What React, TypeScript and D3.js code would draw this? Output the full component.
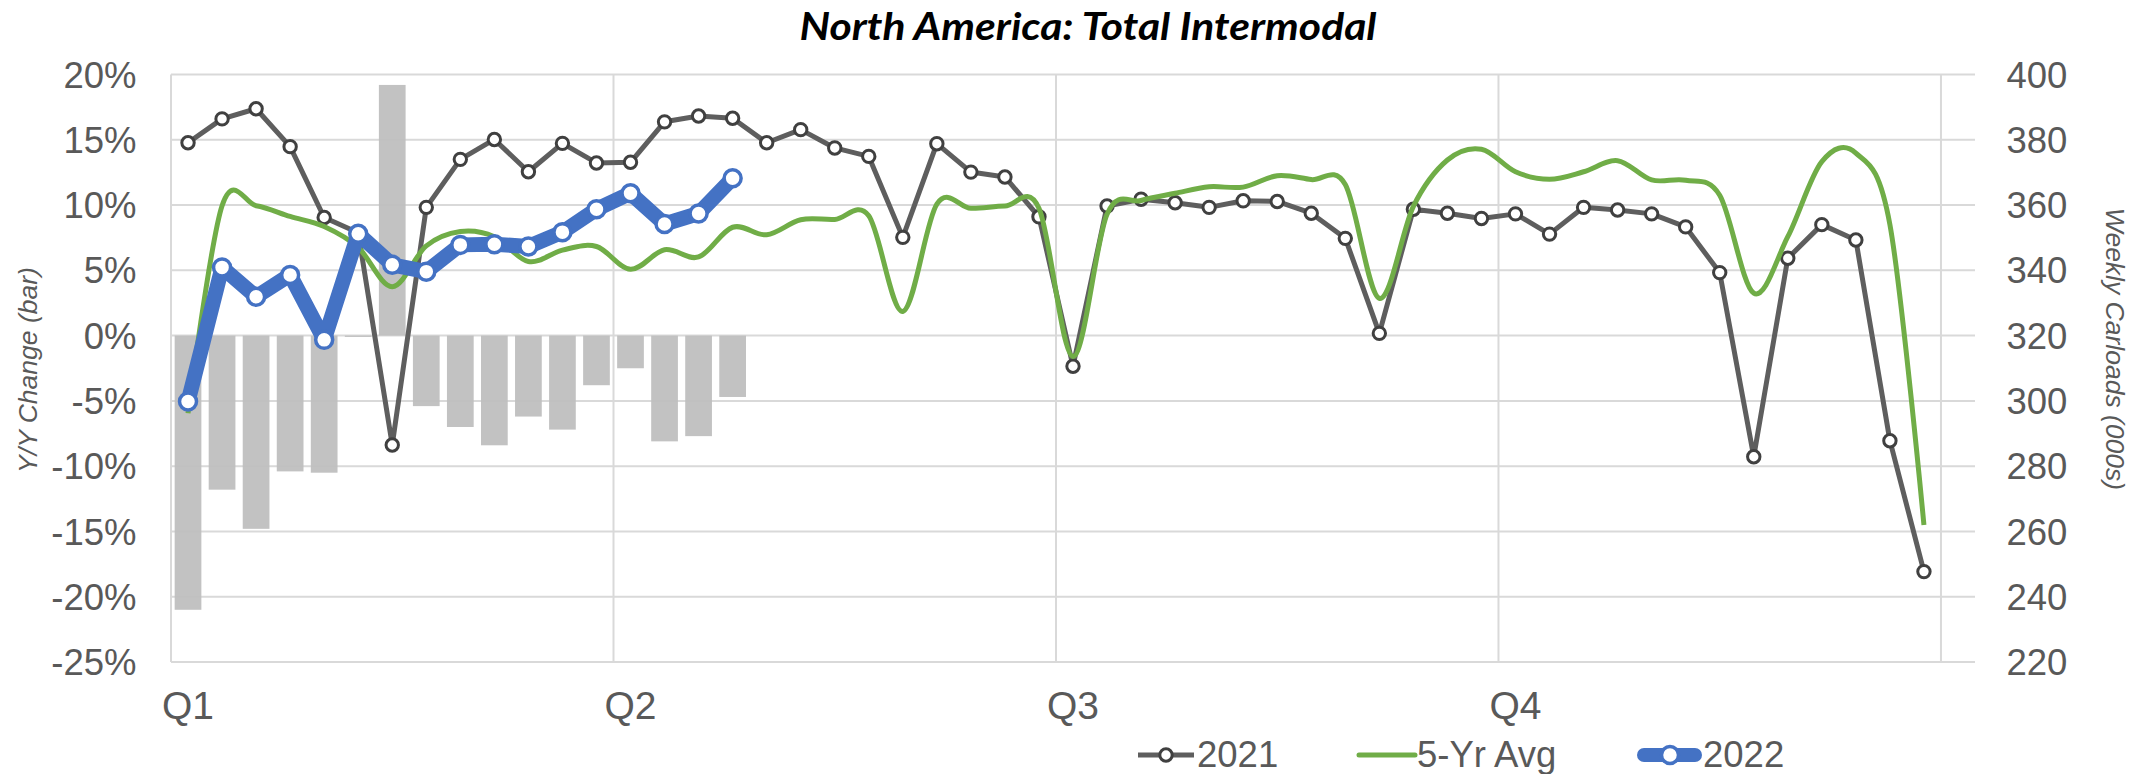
import * as d3 from "d3";
import { useEffect, useRef } from "react";

// weekly carloads (000s), 2021 season, 52 weeks
const carloads2021 = [
  379.1, 386.4, 389.5, 377.9, 356.2, 351.5, 286.5, 359.3, 374.0, 380.1, 370.2, 378.9, 372.9,
  373.1, 385.5, 387.3, 386.6, 379.1, 383.1, 377.5, 374.9, 350.1, 378.8, 370.1, 368.6, 356.4,
  310.6, 359.7, 361.8, 360.7, 359.3, 361.3, 361.1, 357.5, 349.8, 320.7, 358.7, 357.5, 355.9,
  357.3, 351.1, 359.3, 358.5, 357.3, 353.3, 339.3, 282.9, 343.7, 354.0, 349.3, 287.8, 247.7,
];

const fiveYrAvg = [
  296.2, 359.8, 359.8, 356.5, 353.4, 347.0, 335.0, 347.5, 351.9, 350.3, 342.7, 346.2, 347.3,
  340.3, 346.3, 344.1, 353.2, 350.9, 355.5, 355.6, 356.7, 327.4, 360.3, 359.0, 359.7, 359.0,
  313.6, 357.2, 361.4, 363.6, 365.6, 365.5, 369.0, 367.8, 366.3, 331.4, 359.6, 373.8, 377.1,
  370.2, 367.9, 370.2, 373.6, 367.7, 367.6, 363.0, 333.0, 350.3, 373.3, 375.9, 354.0, 262.0,
];

const carloads2022 = [
  299.8, 340.9, 331.9, 338.6, 318.7, 351.2, 341.7, 339.6, 347.8, 348.0, 347.3, 351.7, 358.7,
  363.6, 354.2, 357.4, 368.2,
];

// Y/Y change of 2022 vs 2021, percent
const yoyChange = [
  -21.0, -11.8, -14.8, -10.4, -10.5, -0.1, 19.2, -5.4, -7.0, -8.4, -6.2, -7.2, -3.8, -2.5,
  -8.1, -7.7, -4.7,
];

const quarters = ["Q1", "Q2", "Q3", "Q4"];
const quarterStarts = [0, 13, 26, 39];
const quarterLines = [0, 13, 26, 39, 52];
const pctTicks = [-25, -20, -15, -10, -5, 0, 5, 10, 15, 20];
const loadTicks = [220, 240, 260, 280, 300, 320, 340, 360, 380, 400];

const W = 2143;
const H = 774;
const AXIS_FONT = "'Liberation Sans', Arial, sans-serif";
const TEXT = "#595959";

export default function App() {
  const ref = useRef<SVGSVGElement>(null);

  useEffect(() => {
    if (!ref.current) return;
    const svg = d3.select(ref.current);
    svg.selectAll("*").remove();

    const left = 171, right = 1975, top = 74.5, bottom = 662;

    const x = d3.scaleBand<number>().domain(d3.range(53)).range([left, right]);
    const cx = (i: number) => (x(i) as number) + x.bandwidth() / 2;
    const yL = d3.scaleLinear().domain([-25, 20]).range([bottom, top]);
    const yR = d3.scaleLinear().domain([220, 400]).range([bottom, top]);

    // grid
    const grid = svg.append("g").attr("stroke", "#D9D9D9").attr("stroke-width", 2);
    grid.selectAll("line.h")
      .data(pctTicks)
      .join("line")
      .attr("class", "h")
      .attr("x1", left)
      .attr("x2", right)
      .attr("y1", (d) => yL(d))
      .attr("y2", (d) => yL(d));
    grid.selectAll("line.v")
      .data(quarterLines)
      .join("line")
      .attr("class", "v")
      .attr("x1", (d) => x(d) as number)
      .attr("x2", (d) => x(d) as number)
      .attr("y1", top)
      .attr("y2", bottom);

    // Y/Y bars
    const bw = x.bandwidth() * 0.785;
    svg.append("g")
      .selectAll("rect")
      .data(yoyChange)
      .join("rect")
      .attr("x", (_, i) => cx(i) - bw / 2)
      .attr("width", bw)
      .attr("y", (d) => yL(Math.max(0, d)))
      .attr("height", (d) => Math.abs(yL(d) - yL(0)))
      .attr("fill", "#BFBFBF")
      .attr("fill-opacity", 0.95);

    // 2021
    const straight = d3.line<number>().x((_, i) => cx(i)).y((d) => yR(d));
    svg.append("path")
      .attr("d", straight(carloads2021))
      .attr("fill", "none")
      .attr("stroke", "#5E5E5E")
      .attr("stroke-width", 5)
      .attr("stroke-linejoin", "round");
    svg.append("g")
      .selectAll("circle")
      .data(carloads2021)
      .join("circle")
      .attr("cx", (_, i) => cx(i))
      .attr("cy", (d) => yR(d))
      .attr("r", 6.2)
      .attr("fill", "#fff")
      .attr("stroke", "#404040")
      .attr("stroke-width", 3);

    // 5-yr avg, smoothed
    const smooth = d3.line<number>()
      .x((_, i) => cx(i))
      .y((d) => yR(d))
      .curve(d3.curveCardinal.tension(0));
    svg.append("path")
      .attr("d", smooth(fiveYrAvg))
      .attr("fill", "none")
      .attr("stroke", "#70AD47")
      .attr("stroke-width", 5);

    // 2022
    svg.append("path")
      .attr("d", straight(carloads2022))
      .attr("fill", "none")
      .attr("stroke", "#4472C4")
      .attr("stroke-width", 15)
      .attr("stroke-linejoin", "round")
      .attr("stroke-linecap", "round");
    svg.append("g")
      .selectAll("circle")
      .data(carloads2022)
      .join("circle")
      .attr("cx", (_, i) => cx(i))
      .attr("cy", (d) => yR(d))
      .attr("r", 8.5)
      .attr("fill", "#fff")
      .attr("stroke", "#4472C4")
      .attr("stroke-width", 3.5);

    // axis labels
    const axisText = svg.append("g")
      .attr("font-family", AXIS_FONT)
      .attr("fill", TEXT);
    axisText.selectAll("text.l")
      .data(pctTicks)
      .join("text")
      .attr("class", "l")
      .attr("x", 136.5)
      .attr("y", (d) => yL(d))
      .attr("dy", "0.36em")
      .attr("text-anchor", "end")
      .attr("font-size", 36.5)
      .text((d) => `${d}%`);
    axisText.selectAll("text.r")
      .data(loadTicks)
      .join("text")
      .attr("class", "r")
      .attr("x", 2006.5)
      .attr("y", (d) => yR(d))
      .attr("dy", "0.36em")
      .attr("text-anchor", "start")
      .attr("font-size", 36.5)
      .text((d) => d);
    axisText.selectAll("text.q")
      .data(quarters)
      .join("text")
      .attr("class", "q")
      .attr("x", (_, i) => cx(quarterStarts[i]))
      .attr("y", 719)
      .attr("text-anchor", "middle")
      .attr("font-size", 39)
      .text((d) => d);

    axisText.append("text")
      .attr("transform", "translate(37,370) rotate(-90)")
      .attr("text-anchor", "middle")
      .attr("font-style", "italic")
      .attr("font-size", 26.5)
      .text("Y/Y Change (bar)");
    axisText.append("text")
      .attr("transform", "translate(2106,349) rotate(90)")
      .attr("text-anchor", "middle")
      .attr("font-style", "italic")
      .attr("font-size", 26.5)
      .text("Weekly Carloads (000s)");

    // title
    svg.append("text")
      .attr("x", 1088)
      .attr("y", 39.5)
      .attr("text-anchor", "middle")
      .attr("font-family", "Lato, 'Open Sans', sans-serif")
      .attr("font-weight", "bold")
      .attr("font-style", "italic")
      .attr("font-size", 38.5)
      .attr("textLength", 577)
      .attr("lengthAdjust", "spacingAndGlyphs")
      .attr("fill", "#000")
      .text("North America: Total Intermodal");

    // legend
    const lg = svg.append("g").attr("font-family", AXIS_FONT).attr("font-size", 36.5).attr("fill", TEXT);
    const ly = 755;
    lg.append("line").attr("x1", 1138).attr("x2", 1194).attr("y1", ly).attr("y2", ly)
      .attr("stroke", "#5E5E5E").attr("stroke-width", 5);
    lg.append("circle").attr("cx", 1166).attr("cy", ly).attr("r", 6.2)
      .attr("fill", "#fff").attr("stroke", "#404040").attr("stroke-width", 3);
    lg.append("text").attr("x", 1197).attr("y", 767).text("2021");

    lg.append("line").attr("x1", 1359).attr("x2", 1415).attr("y1", ly).attr("y2", ly)
      .attr("stroke", "#70AD47").attr("stroke-width", 5).attr("stroke-linecap", "round");
    lg.append("text").attr("x", 1417).attr("y", 767).text("5-Yr Avg");

    lg.append("line").attr("x1", 1644).attr("x2", 1695).attr("y1", ly).attr("y2", ly)
      .attr("stroke", "#4472C4").attr("stroke-width", 14).attr("stroke-linecap", "round");
    lg.append("circle").attr("cx", 1670).attr("cy", ly).attr("r", 8.5)
      .attr("fill", "#fff").attr("stroke", "#4472C4").attr("stroke-width", 3.5);
    lg.append("text").attr("x", 1703).attr("y", 767).text("2022");
  }, []);

  return (
    <svg
      ref={ref}
      width={W}
      height={H}
      style={{ position: "absolute", left: 0, top: 0, background: "#fff" }}
    />
  );
}
